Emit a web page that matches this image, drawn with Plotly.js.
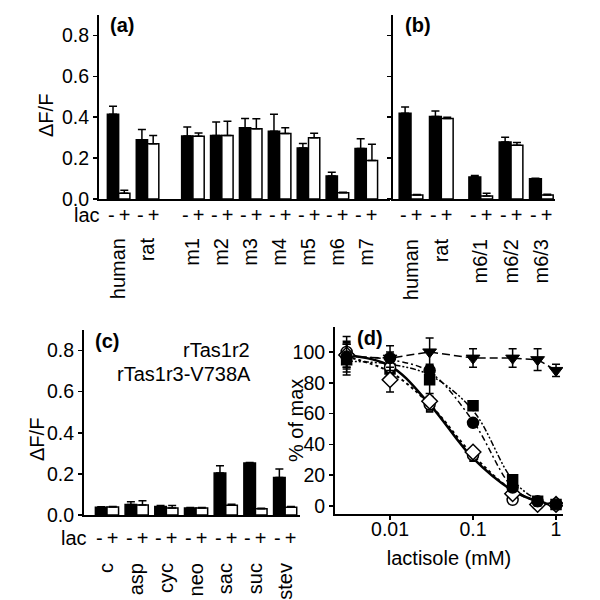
<!DOCTYPE html>
<html>
<head>
<meta charset="utf-8">
<script src="https://cdn.plot.ly/plotly-3.0.1.min.js"></script>
<style>html,body{margin:0;padding:0;background:#fff;}#chart{width:600px;height:600px;}</style>
</head>
<body>
<div id="chart"></div>
<script>
// ---------- Panel (a) ----------
const catsA = ['human', 'rat', 'm1', 'm2', 'm3', 'm4', 'm5', 'm6', 'm7'];
const aMinus = [0.414, 0.290, 0.308, 0.311, 0.349, 0.331, 0.250, 0.113, 0.247];
const aMinusErr = [0.040, 0.050, 0.044, 0.066, 0.045, 0.083, 0.021, 0.018, 0.048];
const aPlus = [0.028, 0.270, 0.307, 0.310, 0.344, 0.320, 0.300, 0.031, 0.188];
const aPlusErr = [0.015, 0.040, 0.016, 0.070, 0.049, 0.029, 0.022, 0.002, 0.080];

// ---------- Panel (b) ----------
const catsB = ['human', 'rat', 'm6/1', 'm6/2', 'm6/3'];
const bMinus = [0.420, 0.404, 0.108, 0.279, 0.099];
const bMinusErr = [0.030, 0.026, 0.007, 0.023, 0.002];
const bPlus = [0.019, 0.394, 0.015, 0.263, 0.020];
const bPlusErr = [0.003, 0.006, 0.013, 0.013, 0.003];

// ---------- Panel (c) ----------
const catsC = ['c', 'asp', 'cyc', 'neo', 'sac', 'suc', 'stev'];
const cMinus = [0.038, 0.051, 0.041, 0.034, 0.204, 0.253, 0.183];
const cMinusErr = [0.002, 0.013, 0.005, 0.002, 0.036, 0.003, 0.041];
const cPlus = [0.039, 0.049, 0.034, 0.034, 0.047, 0.031, 0.038];
const cPlusErr = [0.002, 0.020, 0.012, 0.002, 0.005, 0.002, 0.003];

// ---------- Panel (d) ----------
const lactisole = [0.003, 0.01, 0.03, 0.1, 0.3, 0.6, 1];
const openCircle = [100, 90, 66, 33, 4, 1, 1];
const openCircleErr = [10, 2, 2, 2, 2, 1, 1];
const openDiamond = [98, 82, 68, 35, 8, 1, 1];
const openDiamondErr = [8, 8, 3, 2, 2, 1, 1];
const smallSquare = [97, 90, 63, 31, 12, 3, 1];
const filledCircle = [97, 96, 88, 54, 12, 3, 1];
const filledCircleErr = [8, 8, 4, 2, 2, 3, 2];
const filledSquare = [95, 89, 82, 65, 17, 3, 1];
const filledSquareErr = [10, 4, 9, 2, 2, 2, 1];
const invTriangle = [97, 96, 100, 96, 96, 95, 88];
const invTriangleErr = [10, 4, 9, 6, 6, 7, 4];
// fitted curves at the same concentrations
const fitSolid = [98, 91, 66, 31, 10, 3, 0];
const fitDotted = [97, 87, 66, 33, 10, 3, 0];
const fitDashDot = [97, 95, 87, 55, 12, 3, 1];
const fitDashDotDot = [94, 92, 85, 62, 17, 4, 1];

const yTicks = [0, 0.2, 0.4, 0.6, 0.8];
const dTicksY = [0, 20, 40, 60, 80, 100];
const dTicksX = [0.01, 0.1, 1];

// ---------- layout helpers ----------
const W = 600, H = 600;
const xd = (a, b) => [a / W, b / W];
const yd = (top, bottom) => [1 - bottom / H, 1 - top / H];
const FONT = 'Liberation Sans, Arial, sans-serif';
const BLK = '#000';
const FS = 20;

// positions with a visual gap after the 'rat' group
function positions(n, gapAfter, gap) {
  const p = [];
  for (let i = 0; i < n; i++) p.push(i + (i > gapAfter ? gap : 0));
  return p;
}
const posA = positions(catsA.length, 1, 0.57);
const posB = positions(catsB.length, 1, 0.30);
const posC = positions(catsC.length, 99, 0);

function barPair(pos, minus, minusErr, plus, plusErr, xa, ya) {
  const zeros = minus.map(() => 0);
  return [
    {type: 'bar', x: pos, y: minus, xaxis: xa, yaxis: ya, name: '-',
     marker: {color: BLK, line: {color: BLK, width: 1.5}},
     error_y: {type: 'data', array: minusErr, arrayminus: zeros, symmetric: false, color: BLK, thickness: 1.5, width: 4},
     showlegend: false, hoverinfo: 'skip'},
    {type: 'bar', x: pos, y: plus, xaxis: xa, yaxis: ya, name: '+',
     marker: {color: '#fff', line: {color: BLK, width: 1.5}},
     error_y: {type: 'data', array: plusErr, arrayminus: zeros, symmetric: false, color: BLK, thickness: 1.5, width: 4},
     showlegend: false, hoverinfo: 'skip'}
  ];
}

const traces = [
  ...barPair(posA, aMinus, aMinusErr, aPlus, aPlusErr, 'x', 'y'),
  ...barPair(posB, bMinus, bMinusErr, bPlus, bPlusErr, 'x2', 'y2'),
  ...barPair(posC, cMinus, cMinusErr, cPlus, cPlusErr, 'x3', 'y3'),
];

// panel d curves
function curve(y, dash, width) {
  return {type: 'scatter', mode: 'lines', x: lactisole, y: y, xaxis: 'x4', yaxis: 'y4',
          line: {color: BLK, width: width, dash: dash, shape: 'spline', smoothing: 1},
          showlegend: false, hoverinfo: 'skip'};
}
function pts(y, err, symbol, fill, size) {
  const t = {type: 'scatter', mode: 'markers', x: lactisole, y: y, xaxis: 'x4', yaxis: 'y4',
          marker: {symbol: symbol, color: fill, size: size, line: {color: BLK, width: 1.5}},
          showlegend: false, hoverinfo: 'skip'};
  if (err) t.error_y = {type: 'data', array: err, color: BLK, thickness: 1.5, width: 4};
  return t;
}
traces.push(curve(fitSolid, 'solid', 2.5));
traces.push(curve(fitDotted, 'dot', 2));
traces.push(curve(fitDashDot, '6px,3px,2px,3px', 1.5));
traces.push(curve(fitDashDotDot, '6px,2px,2px,2px,2px,2px', 1.5));
traces.push({type: 'scatter', mode: 'lines+markers', x: lactisole, y: invTriangle, xaxis: 'x4', yaxis: 'y4',
  line: {color: BLK, width: 1.5, dash: '8px,4px'},
  marker: {symbol: 'triangle-down', color: BLK, size: 12, line: {color: BLK, width: 1}},
  error_y: {type: 'data', array: invTriangleErr, color: BLK, thickness: 1.5, width: 4},
  showlegend: false, hoverinfo: 'skip'});
traces.push(pts(filledSquare, filledSquareErr, 'square', BLK, 10));
traces.push(pts(smallSquare, null, 'square', '#333', 6));
traces.push(pts(openCircle, openCircleErr, 'circle', '#fff', 11));
traces.push(pts(openDiamond, openDiamondErr, 'diamond', '#fff', 12));
traces.push(pts(filledCircle, filledCircleErr, 'circle', BLK, 11));

const tickFont = {family: FONT, size: 19.5, color: BLK};
const baseAx = {showline: true, linecolor: BLK, linewidth: 2, zeroline: false, showgrid: false,
                tickcolor: BLK, tickwidth: 1.5, ticklen: 4, tickfont: tickFont};

function catX(domain, anchor, range, pos, cats, standoff) {
  return Object.assign({}, baseAx, {domain: domain, anchor: anchor, range: range, tickvals: pos, ticktext: cats,
    ticks: '', tickangle: -90, ticklabelstandoff: standoff, tickfont: {family: FONT, size: FS, color: BLK}});
}
function valY(domain, anchor, labels) {
  return Object.assign({}, baseAx, {domain: domain, anchor: anchor, range: [0, 0.9], tickvals: yTicks,
    tickformat: '.1f', ticks: 'outside', showticklabels: labels});
}

const layout = {
  width: W, height: H, margin: {l: 0, r: 0, t: 0, b: 0},
  paper_bgcolor: '#fff', plot_bgcolor: 'rgba(0,0,0,0)',
  barmode: 'group', bargap: 0.22, bargroupgap: 0,
  font: {family: FONT, size: FS, color: BLK},
  showlegend: false,
  xaxis: catX(xd(99, 390), 'y', [-0.68, 9.39], posA, catsA, 29),
  yaxis: valY(yd(15, 199), 'x', true),
  xaxis2: catX(xd(393, 555), 'y2', [-0.594, 4.75], posB, catsB, 30),
  yaxis2: valY(yd(15, 199), 'x2', false),
  xaxis3: catX(xd(84, 300), 'y3', [-0.774, 6.5], posC, catsC, 38),
  yaxis3: valY(yd(330, 515), 'x3', true),
  xaxis4: Object.assign({}, baseAx, {domain: xd(335, 563), anchor: 'y4', type: 'log', range: [-2.663, 0.084],
    tickvals: dTicksX, ticktext: dTicksX.map(String), ticks: 'outside', ticklabelstandoff: -7,
    title: {text: 'lactisole (mM)', font: {family: FONT, size: FS, color: BLK}, standoff: 12}}),
  yaxis4: Object.assign({}, baseAx, {domain: yd(327, 514), anchor: 'x4', range: [-5.2, 116.2],
    tickvals: dTicksY, ticks: 'outside'}),
  annotations: []
};

const ann = layout.annotations;
function txt(text, xpx, ypx, opts) {
  ann.push(Object.assign({x: xpx / W, y: 1 - ypx / H, xref: 'paper', yref: 'paper', xanchor: 'center', yanchor: 'middle',
    text: text, showarrow: false, font: {family: FONT, size: FS, color: BLK}}, opts || {}));
}
// y-axis titles
txt('ΔF/F', 46, 116, {textangle: -90});
txt('ΔF/F', 37, 440, {textangle: -90});
txt('% of max', 296, 421, {textangle: -90});

// "lac - +" rows
function addLac(pos, xref, yref, shift, withLabel, labelX) {
  pos.forEach(p => ann.push({x: p, xref: xref, y: 0, yref: yref + ' domain', yanchor: 'middle', yshift: shift,
    text: '-\u2009+', showarrow: false, font: {family: FONT, size: FS, color: BLK}}));
  if (withLabel) ann.push({x: labelX / W, xref: 'paper', y: 0, yref: yref + ' domain', xanchor: 'right', yanchor: 'middle',
    yshift: shift, text: 'lac', showarrow: false, font: {family: FONT, size: FS, color: BLK}});
}
addLac(posA, 'x', 'y', -16, true, 102);
addLac(posB, 'x2', 'y2', -16, false, 0);
addLac(posC, 'x3', 'y3', -23, true, 89);

// panel letters
txt('<b>(a)</b>', 108, 25, {xanchor: 'left'});
txt('<b>(b)</b>', 403, 25, {xanchor: 'left'});
txt('<b>(c)</b>', 93, 341, {xanchor: 'left'});
txt('<b>(d)</b>', 355, 338, {xanchor: 'left'});

txt('rTas1r2', 252, 350, {xanchor: 'right'});
txt('rTas1r3-V738A', 253, 374, {xanchor: 'right'});

Plotly.newPlot('chart', traces, layout, {staticPlot: true, displayModeBar: false});
</script>
</body>
</html>
